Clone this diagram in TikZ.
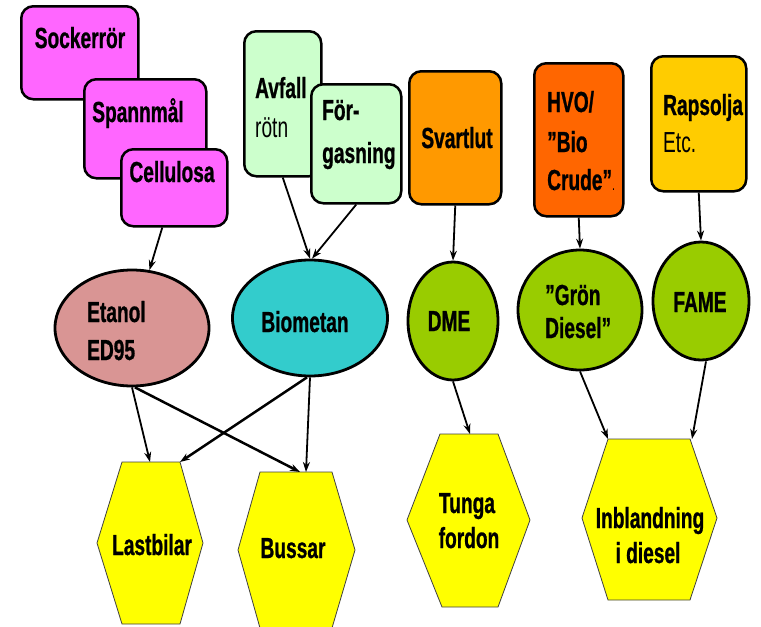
\documentclass[tikz,border=0pt]{standalone}
\usepackage{fontspec}
\setmainfont{Liberation Sans}[FakeStretch=0.66, BoldFeatures={FakeBold=0.8}]
\usetikzlibrary{arrows.meta,shapes.geometric}
\definecolor{mag}{HTML}{FF66FF}
\definecolor{lgreen}{HTML}{CCFFCC}
\definecolor{svorange}{HTML}{FF9900}
\definecolor{hvoorange}{HTML}{FF6600}
\definecolor{rapsgold}{HTML}{FFCC00}
\definecolor{rose}{HTML}{D99594}
\definecolor{teal}{HTML}{33CCCC}
\definecolor{lime}{HTML}{99CC00}
\definecolor{hexyellow}{HTML}{FFFF00}
\tikzset{
  box/.style={draw=black, line width=2.5pt, rounded corners=12pt, inner sep=0pt, anchor=north west},
  oval/.style={ellipse, draw=black, line width=2.8pt, inner sep=0pt},
  hexshape/.style={fill=hexyellow, draw=black!75, line width=0.8pt},
  lbl/.style={inner sep=0pt, font=\fontsize{29}{34}\selectfont\bfseries},
  lblr/.style={inner sep=0pt, font=\fontsize{29}{34}\selectfont},
  arr/.style={-{Stealth[length=10pt,width=7pt]}, line width=1.8pt},
  arrb/.style={-{Stealth[length=10pt,width=7pt]}, line width=2.5pt},
}
\begin{document}
\begin{tikzpicture}[x=1pt,y=-1pt]
\useasboundingbox (0,0) rectangle (761,627);
\clip (0,0) rectangle (761,627);
% source boxes
\node[box, fill=mag, minimum width=117pt, minimum height=93pt] (sock) at (20,5) {};
\node[box, fill=mag, minimum width=122pt, minimum height=99pt] (spann) at (83,78) {};
\node[box, fill=mag, minimum width=106pt, minimum height=77pt] (cell) at (120,148) {};
\node[box, fill=lgreen, minimum width=77pt, minimum height=145pt] (avf) at (243,30) {};
\node[box, fill=lgreen, minimum width=90pt, minimum height=119pt] (forg) at (310,83) {};
\node[box, fill=svorange, minimum width=92pt, minimum height=133pt] (svart) at (408,70) {};
\node[box, fill=hvoorange, minimum width=89pt, minimum height=153pt] (hvo) at (533,62) {};
\node[box, fill=rapsgold, minimum width=95pt, minimum height=135pt] (raps) at (650,55) {};
% box texts
\node[lbl, anchor=base] (t-sock) at (80,48) {Sockerrör};
\node[lbl, anchor=base] (t-spann) at (138,122) {Spannmål};
\node[lbl, anchor=base] (t-cell) at (172,182) {Cellulosa};
\node[lbl, anchor=base west] (t-avf1) at (255,98) {Avfall};
\node[lblr, anchor=base west] (t-avf2) at (255,137) {rötn};
\node[lbl, anchor=base west] (t-forg1) at (322,120) {För-};
\node[lbl, anchor=base west] (t-forg2) at (322,163) {gasning};
\node[lbl, anchor=base] (t-svart) at (457,148) {Svartlut};
\node[lbl, anchor=base west] (t-hvo1) at (547,112) {HVO/};
\node[lbl, anchor=base west] (t-hvo2) at (547,152) {”Bio};
\node[lbl, anchor=base west] (t-hvo3) at (547,190) {Crude”{\mdseries\fontsize{16}{16}\selectfont.}};
\node[lbl, anchor=base west] (t-raps1) at (663,115) {Rapsolja};
\node[lblr, anchor=base west] (t-raps2) at (663,152) {Etc.};
% ellipses
\node[oval, fill=rose, minimum width=154pt, minimum height=116pt] (etanol) at (132,328) {};
\node[oval, fill=teal, minimum width=155pt, minimum height=116pt] (bio) at (310,318) {};
\node[oval, fill=lime, minimum width=90pt, minimum height=118pt] (dme) at (453,321) {};
\node[oval, fill=lime, minimum width=124pt, minimum height=120pt] (gron) at (580,310) {};
\node[oval, fill=lime, minimum width=96pt, minimum height=118pt] (fame) at (701,301) {};
\node[lbl, anchor=base west] (t-et1) at (87,322) {Etanol};
\node[lbl, anchor=base west] (t-et2) at (87,360) {ED95};
\node[lbl, anchor=base] (t-bio) at (305,332) {Biometan};
\node[lbl, anchor=base] (t-dme) at (449,331) {DME};
\node[lbl, anchor=base west] (t-gr1) at (545,305) {”Grön};
\node[lbl, anchor=base west] (t-gr2) at (545,338) {Diesel”};
\node[lbl, anchor=base] (t-fame) at (700,312) {FAME};
% hexagons
\draw[hexshape] (122,462) -- (180,462) -- (203,543) -- (180,624) -- (122,624) -- (97,543) -- cycle;
\draw[hexshape] (260,472) -- (332,472) -- (355,550) -- (332,628) -- (260,628) -- (238,550) -- cycle;
\draw[hexshape] (440,434) -- (498,434) -- (530,520) -- (498,607) -- (442,607) -- (407,520) -- cycle;
\draw[hexshape] (608,439) -- (690,439) -- (717,518) -- (690,600) -- (608,600) -- (582,518) -- cycle;
\coordinate (last-a) at (150,462);
\coordinate (last-b) at (180,462);
\coordinate (bus-a) at (300,472);
\coordinate (bus-b) at (306,472);
\coordinate (tunga-a) at (470,434);
\coordinate (inbl-a) at (608,439);
\coordinate (inbl-b) at (692,439);
\node[lbl, anchor=base] (t-last) at (152,555) {Lastbilar};
\node[lbl, anchor=base] (t-bus) at (293,558) {Bussar};
\node[lbl, anchor=base] (t-tunga1) at (467,513) {Tunga};
\node[lbl, anchor=base] (t-tunga2) at (469,548) {fordon};
\node[lbl, anchor=base] (t-inbl1) at (650,528) {Inblandning};
\node[lbl, anchor=base] (t-inbl2) at (648,563) {i diesel};
% connectors
\draw[arr] (cell) -- (etanol);
\draw[arr] (avf.south) -- (bio.north);
\draw[arr] (forg.south) -- ([xshift=2pt]bio.north);
\draw[arr] (svart.south) -- (dme.north);
\draw[arr] (hvo.south) -- (gron.north);
\draw[arr] (raps.south) -- (fame.north);
\draw[arr] (etanol.south) -- (last-a);
\draw[arrb] ([xshift=3pt]etanol.south) -- (bus-a);
\draw[arrb] ([xshift=-3pt]bio.south) -- (last-b);
\draw[arr] (bio.south) -- (bus-b);
\draw[arr] (dme.south) -- (tunga-a);
\draw[arr] (gron.south) -- (inbl-a);
\draw[arr] ([xshift=5pt]fame.south) -- (inbl-b);
\end{tikzpicture}
\end{document}
